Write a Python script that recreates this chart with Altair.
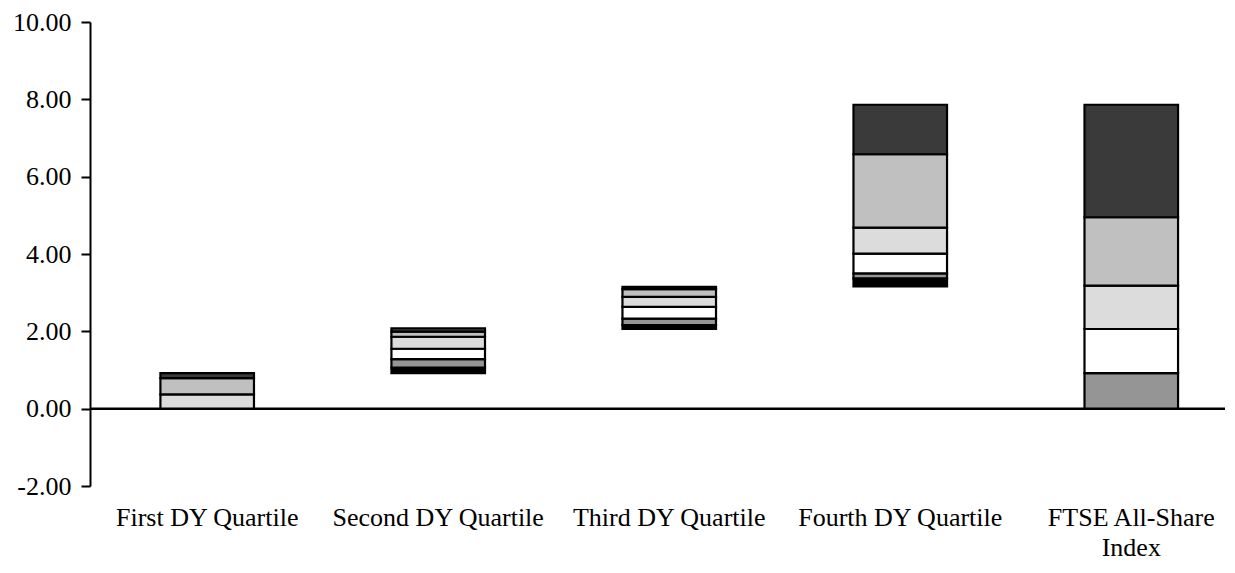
import altair as alt
import pandas as pd

# Categories (x axis) and the floating base of each bar
categories = ["First DY Quartile", "Second DY Quartile", "Third DY Quartile",
              "Fourth DY Quartile", "FTSE All-Share Index"]
base = [0.00, 0.92, 2.06, 3.16, 0.00]

# Segment heights per component, stacked bottom to top in this order
series_names = ["Component 1", "Component 2", "Component 3",
                "Component 4", "Component 5", "Component 6"]
comp1 = [0.00, 0.14, 0.10, 0.21, 0.00]
comp2 = [0.00, 0.22, 0.17, 0.13, 0.92]
comp3 = [0.00, 0.27, 0.30, 0.51, 1.14]
comp4 = [0.37, 0.31, 0.26, 0.67, 1.12]
comp5 = [0.42, 0.13, 0.20, 1.90, 1.77]
comp6 = [0.13, 0.09, 0.06, 1.28, 2.91]
series_values = [comp1, comp2, comp3, comp4, comp5, comp6]
series_colors = ["#000000", "#959595", "#ffffff", "#dcdcdc", "#c0c0c0", "#3a3a3a"]

y_ticks = [-2, 0, 2, 4, 6, 8, 10]

rows = []
for i, cat in enumerate(categories):
    level = base[i]
    for name, vals in zip(series_names, series_values):
        h = vals[i]
        if h > 0:
            rows.append({"category": cat, "series": name,
                         "start": level, "end": level + h})
        level += h
df = pd.DataFrame(rows)

FONT = "Liberation Serif"

x_enc = alt.X(
    "category:N", sort=categories, title=None,
    scale=alt.Scale(paddingInner=0.595, paddingOuter=0.254, align=0.60),
    axis=alt.Axis(
        domain=False, ticks=False, tickSize=0, labelAngle=0,
        labelFont=FONT, labelFontSize=26, labelColor="black",
        labelPadding=18, labelLineHeight=30, labelLimit=400,
        labelExpr="datum.value == 'FTSE All-Share Index' ? ['FTSE All-Share', 'Index'] : datum.label",
    ),
)

y_scale = alt.Scale(domain=[-2, 10], nice=False, zero=False)
y_axis = alt.Axis(
    values=y_ticks, grid=False, title=None,
    labelExpr="datum.value < 0 ? '-' + format(-datum.value, '.2f') : format(datum.value, '.2f')",
    domainColor="black", domainWidth=2, tickColor="black", tickWidth=2,
    tickSize=9, labelPadding=10, labelFont=FONT, labelFontSize=26,
    labelColor="black",
)

bars = alt.Chart(df).mark_bar(stroke="black", strokeWidth=2.2).encode(
    x=x_enc,
    y=alt.Y("start:Q", scale=y_scale, axis=y_axis),
    y2="end:Q",
    color=alt.Color("series:N",
                    scale=alt.Scale(domain=series_names, range=series_colors),
                    legend=None),
)

zero_line = alt.Chart(pd.DataFrame({"v": [0]})).mark_rule(
    color="black", strokeWidth=2.5
).encode(y=alt.Y("v:Q", scale=y_scale))

chart = alt.layer(zero_line, bars).properties(
    width=1135, height=464,
    autosize=alt.AutoSizeParams(type="none"),
    padding={"left": 82, "top": 14, "right": 0, "bottom": 78},
    background="white",
).configure_view(stroke=None)

chart.save("out.html", embed_options={"renderer": "svg", "actions": False})
